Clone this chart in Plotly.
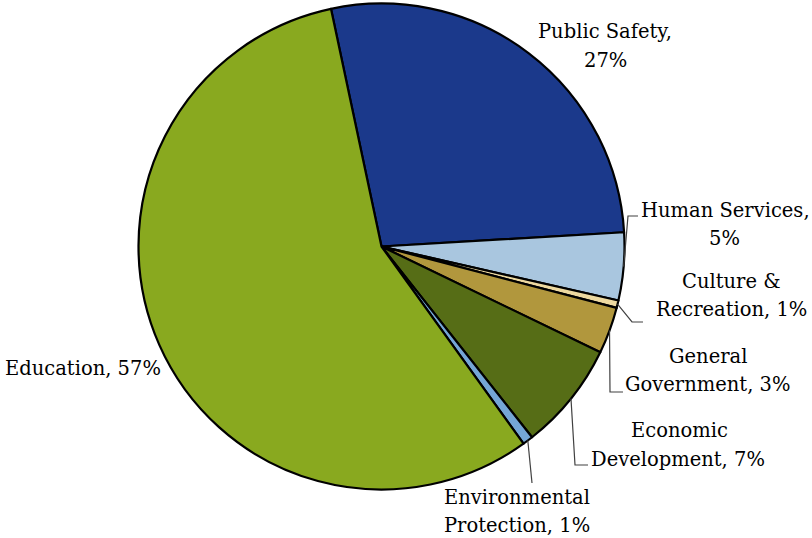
import math
import plotly.graph_objects as go

# ---- data ----
categories = ["Public Safety", "Human Services", "Culture & Recreation", "General Government",
              "Economic Development", "Environmental Protection", "Education"]
values = [27.4, 4.5, 0.5, 3.1, 7.2, 0.7, 56.6]
pct_labels = ["27%", "5%", "1%", "3%", "7%", "1%", "57%"]
label_lines = [["Public Safety,", "27%"], ["Human Services,", "5%"], ["Culture &", "Recreation, 1%"],
               ["General", "Government, 3%"], ["Economic", "Development, 7%"],
               ["Environmental", "Protection, 1%"], ["Education, 57%"]]
colors = ["#1B398B", "#A9C6DF", "#EDD9A0", "#B1973D", "#566D16", "#75A6D6", "#89A91F"]

W, H = 812, 538
CX, CY, R = 381.5, 246.5, 243.0
ROT = -12.0  # start angle of first slice (deg, clockwise from 12 o'clock)
FONT = "Palatino Linotype, Book Antiqua, Palatino, DejaVu Serif, serif"
FS = 19.5

fig = go.Figure(go.Pie(
    labels=categories, values=values, sort=False, direction="clockwise",
    rotation=ROT, textinfo="none", hoverinfo="skip", showlegend=False,
    marker=dict(colors=colors, line=dict(color="black", width=2.2)),
    domain=dict(x=[(CX - R) / W, (CX + R) / W],
                y=[max(0, (H - CY - R) / H), min(1, (H - CY + R) / H)]),
))

# label line positions (pixel coords: x center, y of each line)
label_pos = [[(605, 31), (605, 60)], [(725, 210), (724, 238)], [(731, 281), (731, 309)],
             [(708, 356), (708, 384)], [(679, 430), (678, 459)], [(517, 497), (517, 525)],
             [(83, 368)]]
leaders = {
    1: [(628, 216), (638, 216)],
    2: [(632, 322), (643, 322)],
    3: [(610, 392), (623, 392)],
    4: [(575, 465), (588, 465)],
    5: [(532, 483)],
}

total = sum(values)
cum = 0
anchors = []
for v in values:
    mid = ROT + (cum + v / 2) / total * 360
    a = math.radians(mid)
    anchors.append((CX + R * math.sin(a), CY - R * math.cos(a)))
    cum += v


def px(x, y):
    return x / W, 1 - y / H


shapes = []
for i, pts in leaders.items():
    sx, sy = anchors[i]
    allpts = [(sx, sy)] + pts
    path = "M " + " L ".join(f"{px(x, y)[0]:.5f},{px(x, y)[1]:.5f}" for x, y in allpts)
    shapes.append(dict(type="path", xref="paper", yref="paper", path=path,
                       line=dict(color="#404040", width=1.2)))

annotations = []
for lines, poss in zip(label_lines, label_pos):
    for t, (x, y) in zip(lines, poss):
        xx, yy = px(x, y)
        annotations.append(dict(text=t, x=xx, y=yy, xref="paper", yref="paper", showarrow=False,
                                xanchor="center", yanchor="middle", align="center",
                                font=dict(family=FONT, size=FS, color="black")))

fig.update_layout(width=W, height=H, margin=dict(l=0, r=0, t=0, b=0),
                  paper_bgcolor="white", plot_bgcolor="white",
                  shapes=shapes, annotations=annotations)

fig.write_html("out.html", config={"displayModeBar": False},
               post_script="document.body.style.margin='0px';document.body.style.overflow='hidden';")
